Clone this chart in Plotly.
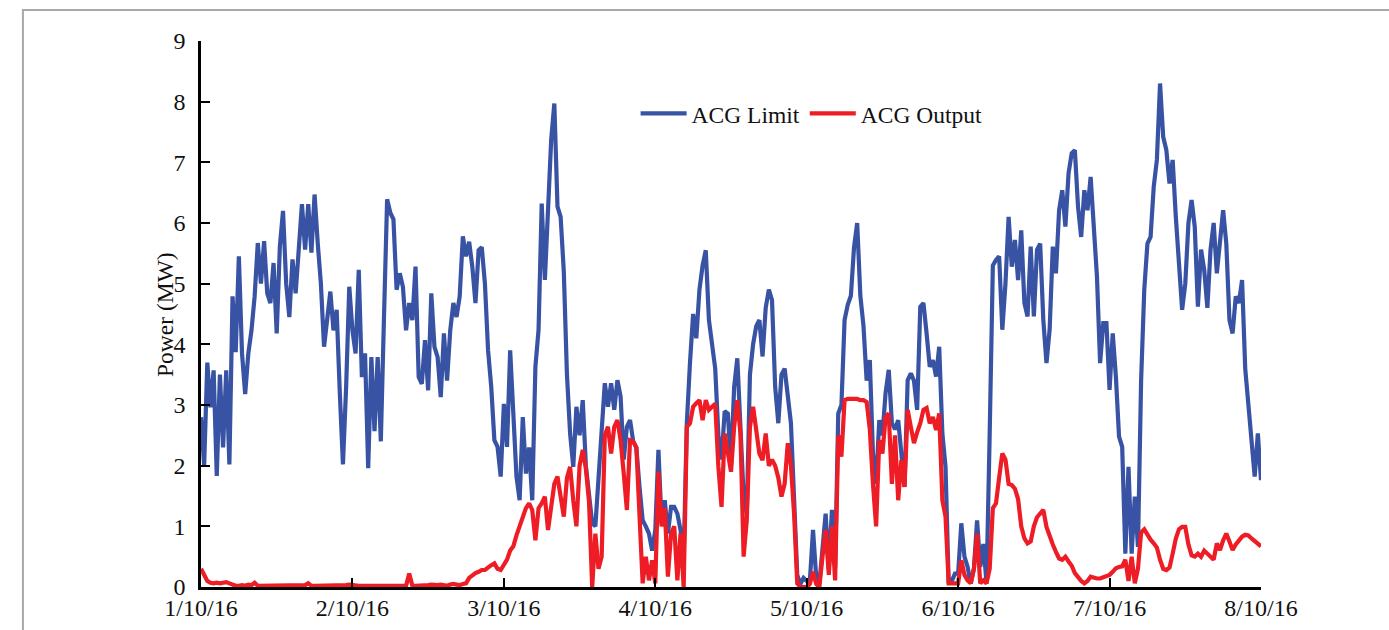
import pandas as pd
import plotly.graph_objects as go

# Half-hourly readings, 1 Oct 2016 00:00 to 8 Oct 2016 00:00
start_time = "2016-10-01 00:00"
interval = "30min"

acg_limit = [
    # day 1
    2.8, 2.0, 3.7, 2.96, 3.57, 1.83, 3.5, 2.3, 3.57, 2.02,
    4.79, 3.87, 5.45, 3.85, 3.18, 3.85, 4.23, 4.79, 5.67, 5.0,
    5.7, 4.84, 4.68, 5.34, 4.18, 5.62, 6.2, 5.0, 4.45, 5.4,
    4.84, 5.62, 6.31, 5.56, 6.31, 5.51, 6.47, 5.67, 5.0, 3.96,
    4.45, 4.87, 4.23, 4.57, 3.2, 2.02, 3.29, 4.95,
    # day 2
    4.23, 3.85, 5.23, 3.46, 3.85, 1.96, 3.79, 2.57, 3.79, 2.4,
    4.45, 6.39, 6.17, 6.06, 4.9, 5.17, 4.95, 4.23, 4.68, 4.4,
    5.28, 3.46, 3.35, 4.07, 3.24, 4.84, 3.96, 3.79, 3.13, 4.18,
    3.4, 4.23, 4.68, 4.45, 4.79, 5.78, 5.45, 5.69, 5.28, 4.68,
    5.55, 5.6, 5.0, 3.9, 3.3, 2.42, 2.31, 1.82,
    # day 3
    3.02, 2.31, 3.9, 2.97, 1.82, 1.43, 2.8, 1.87, 2.3, 1.43,
    3.63, 4.24, 6.32, 5.06, 6.27, 7.37, 7.97, 6.27, 6.1, 5.2,
    3.5, 2.53, 1.98, 2.97, 2.5, 3.08, 2.0, 1.43, 1.05, 1.0,
    1.8, 2.75, 3.36, 2.97, 3.36, 2.92, 3.41, 3.14, 2.1, 2.64,
    2.75, 2.4, 2.3, 1.65, 1.1, 1.0, 0.88, 0.6,
    # day 4
    0.94, 2.26, 1.05, 1.43, 0.88, 1.32, 1.32, 1.21, 0.94, 0.5,
    2.7, 3.7, 4.5, 4.1, 4.9, 5.3, 5.55, 4.4, 4.0, 3.6,
    2.5, 2.1, 2.9, 2.86, 2.0, 3.3, 3.77, 2.6, 1.5, 1.2,
    3.5, 4.0, 4.3, 4.4, 3.8, 4.6, 4.9, 4.73, 3.3, 2.7,
    3.5, 3.6, 3.1, 2.7, 1.45, 0.2, 0.05, 0.15,
    # day 5
    0.1, 0.1, 0.94, 0.17, 0.05, 0.6, 1.21, 0.3, 1.27, 0.3,
    2.86, 3.0, 4.4, 4.65, 4.8, 5.6, 6.0, 4.8, 4.3, 3.4,
    3.74, 2.2, 1.7, 2.75, 2.5, 3.2, 3.58, 2.7, 2.6, 2.75,
    2.2, 1.65, 3.41, 3.52, 3.4, 2.92, 4.62, 4.68, 4.18, 3.63,
    3.74, 3.47, 3.96, 2.53, 1.98, 0.06, 0.1, 0.22,
    # day 6
    0.22, 1.05, 0.5, 0.33, 0.06, 0.3, 1.1, 0.33, 0.71, 0.06,
    2.53, 5.3, 5.39, 5.45, 4.24, 5.0, 6.1, 5.28, 5.72, 5.06,
    5.88, 4.68, 4.46, 5.61, 4.46, 5.56, 5.66, 4.4, 3.69, 4.24,
    5.61, 5.17, 6.21, 6.54, 5.94, 6.82, 7.15, 7.2, 6.27, 5.77,
    6.54, 6.21, 6.76, 5.99, 5.12, 3.69, 4.35, 4.35,
    # day 7
    3.25, 4.18, 3.47, 2.48, 2.31, 0.55, 1.98, 0.55, 1.49, 0.66,
    3.41, 4.9, 5.66, 5.77, 6.6, 7.04, 8.3, 7.42, 7.2, 6.65,
    7.04, 6.1, 5.34, 4.57, 5.0, 6.0, 6.38, 5.94, 4.62, 5.56,
    5.23, 4.6, 5.56, 6.0, 5.17, 5.72, 6.21, 5.66, 4.4, 4.18,
    4.79, 4.68, 5.06, 3.6, 3.03, 2.31, 1.82, 2.53,
    # 8 Oct 00:00
    1.76,
]

acg_output = [
    # day 1
    0.3, 0.2, 0.1, 0.07, 0.06, 0.07, 0.06, 0.07, 0.08, 0.06,
    0.03, 0.02, 0.02, 0.03, 0.02, 0.04, 0.03, 0.07, 0.02, 0.02,
    0.03, 0.02, 0.02, 0.03, 0.02, 0.02, 0.03, 0.02, 0.02, 0.03,
    0.02, 0.02, 0.02, 0.03, 0.06, 0.02, 0.02, 0.02, 0.03, 0.02,
    0.02, 0.03, 0.02, 0.02, 0.02, 0.02, 0.03, 0.04,
    # day 2
    0.03, 0.02, 0.02, 0.02, 0.02, 0.02, 0.02, 0.02, 0.01, 0.02,
    0.02, 0.01, 0.01, 0.02, 0.02, 0.02, 0.02, 0.02, 0.22, 0.02,
    0.02, 0.02, 0.02, 0.03, 0.03, 0.04, 0.03, 0.03, 0.04, 0.03,
    0.02, 0.04, 0.05, 0.04, 0.03, 0.05, 0.06, 0.15, 0.2, 0.23,
    0.25, 0.28, 0.28, 0.33, 0.36, 0.39, 0.3, 0.28,
    # day 3
    0.36, 0.45, 0.6, 0.67, 0.85, 1.0, 1.1, 1.3, 1.38, 1.27,
    0.77, 1.3, 1.38, 1.49, 0.94, 1.3, 1.7, 1.82, 1.43, 1.16,
    1.8, 1.98, 1.43, 1.0, 2.0, 2.26, 1.95, 1.4, 0.0, 0.88,
    0.3, 0.5, 2.5, 2.64, 2.2, 2.64, 2.75, 2.42, 1.87, 1.27,
    2.42, 2.4, 2.3, 1.1, 0.06, 0.5, 0.11, 0.44,
    # day 4
    0.06, 1.9, 1.0, 1.3, 0.17, 0.88, 1.0, 0.11, 0.88, 0.0,
    2.64, 2.7, 2.97, 3.03, 3.08, 2.75, 3.08, 2.92, 2.97, 3.02,
    1.98, 1.32, 2.53, 2.2, 1.9, 2.64, 3.08, 2.53, 0.5, 1.1,
    2.64, 2.97, 2.53, 2.2, 2.09, 2.53, 2.0, 2.1, 2.0, 1.8,
    1.49, 1.7, 2.37, 2.0, 1.2, 0.06, 0.0, 0.0,
    # day 5
    0.0, 0.05, 0.25, 0.05, 0.0, 0.5, 0.94, 0.2, 1.0, 0.11,
    2.5, 2.15, 3.08, 3.1, 3.1, 3.1, 3.1, 3.08, 3.08, 3.05,
    2.6, 1.7, 1.0, 2.42, 2.2, 2.8, 2.86, 1.7, 2.5, 1.43,
    2.09, 1.65, 2.92, 2.64, 2.37, 2.55, 2.7, 2.92, 2.95, 2.7,
    2.8, 2.59, 2.86, 1.43, 1.16, 0.06, 0.06, 0.06,
    # day 6
    0.06, 0.44, 0.2, 0.11, 0.06, 0.3, 0.88, 0.06, 0.11, 0.06,
    0.3, 1.3, 1.38, 1.8, 2.2, 2.1, 1.7, 1.68, 1.62, 1.45,
    1.0, 0.8, 0.72, 0.75, 1.0, 1.15, 1.22, 1.27, 0.99, 0.83,
    0.7, 0.58, 0.47, 0.45, 0.5, 0.42, 0.35, 0.23, 0.15, 0.1,
    0.06, 0.1, 0.17, 0.15, 0.14, 0.14, 0.16, 0.17,
    # day 7
    0.2, 0.25, 0.31, 0.33, 0.34, 0.45, 0.1, 0.5, 0.06, 0.3,
    0.9, 0.95, 0.85, 0.78, 0.72, 0.65, 0.45, 0.3, 0.28, 0.32,
    0.55, 0.8, 0.95, 0.99, 0.99, 0.7, 0.52, 0.5, 0.55, 0.5,
    0.6, 0.55, 0.5, 0.45, 0.72, 0.61, 0.77, 0.88, 0.75, 0.61,
    0.7, 0.77, 0.83, 0.86, 0.85, 0.8, 0.75, 0.7,
    # 8 Oct 00:00
    0.67,
]

tick_dates = ["2016-10-01", "2016-10-02", "2016-10-03", "2016-10-04",
              "2016-10-05", "2016-10-06", "2016-10-07", "2016-10-08"]
tick_labels = ["1/10/16", "2/10/16", "3/10/16", "4/10/16",
               "5/10/16", "6/10/16", "7/10/16", "8/10/16"]

times = pd.date_range(start_time, periods=len(acg_limit), freq=interval)

SERIF = "Liberation Serif, Times New Roman, serif"
BLUE = "#3953a4"
RED = "#ee1c25"
TEXT = "#111111"
FS = 24

fig = go.Figure()
fig.add_trace(go.Scatter(x=times, y=acg_limit, mode="lines", name="ACG Limit",
                         line=dict(color=BLUE, width=4.2)))
fig.add_trace(go.Scatter(x=times, y=acg_output, mode="lines", name="ACG Output",
                         line=dict(color=RED, width=4.2)))

fig.update_layout(
    width=1389, height=630,
    margin=dict(l=201, r=128, t=41, b=43, autoexpand=False),
    paper_bgcolor="white", plot_bgcolor="white",
    font=dict(family=SERIF, size=FS, color=TEXT),
    showlegend=True,
    legend=dict(orientation="h", x=0.41, y=0.867, xanchor="left", yanchor="middle",
                font=dict(family=SERIF, size=23.5, color=TEXT),
                bgcolor="rgba(0,0,0,0)", itemwidth=46),
    xaxis=dict(
        range=[times[0], times[-1]], automargin=False,
        tickvals=pd.to_datetime(tick_dates), ticktext=tick_labels,
        ticks="inside", ticklen=9, tickwidth=2, tickcolor="black",
        showline=True, linecolor="black", linewidth=2.5,
        showgrid=False, zeroline=False,
        tickfont=dict(family=SERIF, size=FS, color=TEXT),
        ticklabelstandoff=-3,
    ),
    yaxis=dict(
        range=[0, 9], tickvals=list(range(0, 10)), automargin=False,
        ticks="inside", ticklen=9, tickwidth=2, tickcolor="black",
        showline=True, linecolor="black", linewidth=2.5,
        showgrid=False, zeroline=False,
        tickfont=dict(family=SERIF, size=FS, color=TEXT),
        ticklabelstandoff=8,
    ),
    annotations=[dict(text="Power (MW)", textangle=-90, showarrow=False,
                      xref="paper", yref="paper", x=-0.034, y=0.5,
                      xanchor="center", yanchor="middle",
                      font=dict(family=SERIF, size=23.5, color=TEXT))],
    shapes=[dict(type="rect", xref="paper", yref="paper",
                 x0=-0.168, x1=1.3, y0=-0.3, y1=1.0568,
                 line=dict(color="#a8a8a8", width=2), fillcolor="rgba(0,0,0,0)",
                 layer="below")],
)

fig.write_html("out.html")
